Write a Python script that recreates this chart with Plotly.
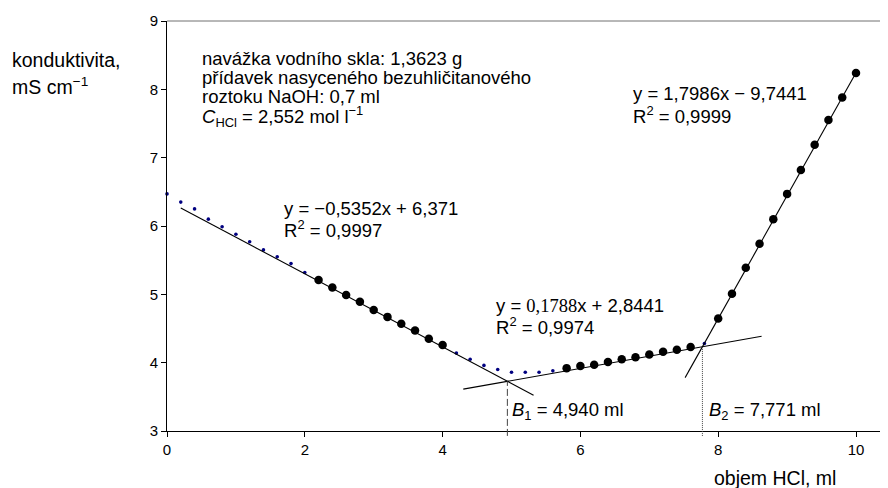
import plotly.graph_objects as go

# ---------------- data ----------------
volume_ml = [0.0, 0.2, 0.4, 0.6, 0.8, 1.0, 1.2, 1.4, 1.6, 1.8, 2.0,
             2.2, 2.4, 2.6, 2.8, 3.0, 3.2, 3.4, 3.6, 3.8, 4.0,
             4.2, 4.4, 4.6, 4.8, 5.0, 5.2, 5.4, 5.6,
             5.8, 6.0, 6.2, 6.4, 6.6, 6.8, 7.0, 7.2, 7.4, 7.6,
             7.8,
             8.0, 8.2, 8.4, 8.6, 8.8, 9.0, 9.2, 9.4, 9.6, 9.8, 10.0]
conductivity = [6.47, 6.35, 6.25, 6.10, 5.99, 5.88, 5.77, 5.65, 5.55, 5.45, 5.32,
                5.21, 5.10, 4.99, 4.89, 4.77, 4.67, 4.57, 4.47, 4.35, 4.26,
                4.14, 4.05, 3.96, 3.90, 3.86, 3.86, 3.86, 3.88,
                3.92, 3.95, 3.97, 4.01, 4.05, 4.08, 4.12, 4.16, 4.19, 4.23,
                4.28,
                4.645, 5.01, 5.39, 5.74, 6.10, 6.47, 6.82, 7.19, 7.55, 7.88, 8.24]

# points used for the three linear fits (index ranges into the series)
fit_index_ranges = [(11, 20), (29, 38), (40, 50)]

# linear fits: slope, intercept, drawn x-extent
fit_slopes = [-0.5352, 0.1788, 1.7986]
fit_intercepts = [6.371, 2.8441, -9.7441]
fit_x_start = [0.2, 4.3, 7.52]
fit_x_end = [5.32, 8.63, 10.0]

# equivalence points
B_values = [4.940, 7.771]

x_ticks = [0, 2, 4, 6, 8, 10]
y_ticks = [3, 4, 5, 6, 7, 8, 9]

# ---------------- layout geometry ----------------
OFF = 8                      # default page (body) margin of the html page
W, H = 888 - OFF, 488 - OFF
L, R, T, Bm = 167 - OFF, 0, 21 - OFF, 57
PW, PH = W - L - R, H - T - Bm
X_MAX = PW / 68.9
FONT = "Liberation Sans, Arial, sans-serif"
FS = 18.5


def px_x(px):
    return (px - OFF - L) / PW


def px_y(py):
    return (H - Bm - (py - OFF)) / PH


fig = go.Figure()

# full measured series (small navy dots)
fig.add_trace(go.Scatter(
    x=volume_ml, y=conductivity, mode="markers",
    marker=dict(size=3.6, color="#000080"),
    cliponaxis=False, showlegend=False, hoverinfo="x+y"))

# fit lines
for a, b, x0, x1 in zip(fit_slopes, fit_intercepts, fit_x_start, fit_x_end):
    fig.add_trace(go.Scatter(
        x=[x0, x1], y=[a * x0 + b, a * x1 + b], mode="lines",
        line=dict(color="black", width=1.1), showlegend=False, hoverinfo="skip"))

# points used in the fits (big black dots)
for i0, i1 in fit_index_ranges:
    fig.add_trace(go.Scatter(
        x=volume_ml[i0:i1 + 1], y=conductivity[i0:i1 + 1], mode="markers",
        marker=dict(size=8.5, color="black"),
        cliponaxis=False, showlegend=False))

# vertical lines from the intersections down to the axis
drop_specs = [(B_values[0], 0, "7px,3px"), (B_values[1], 1, "1px,1px")]
shapes = []
for bx, k, dash in drop_specs:
    y_int = fit_slopes[k] * bx + fit_intercepts[k]
    shapes.append(dict(type="line", xref="x", yref="paper",
                       x0=bx, x1=bx, y0=-0.012, y1=(y_int - 3) / 6,
                       line=dict(color="#444444", width=1, dash=dash)))
# top frame line (grey)
shapes.append(dict(type="line", xref="paper", yref="paper",
                   x0=0, x1=1, y0=1, y1=1,
                   line=dict(color="#707070", width=1)))

# ---------------- text ----------------
texts = [
    ("konduktivita,", 12, 67, 19.5),
    ("mS cm<sup>−1</sup>", 12, 93, 19.5),
    ("navážka vodního skla: 1,3623 g", 202, 64.5, FS),
    ("přídavek nasyceného bezuhličitanového", 202, 84, FS),
    ("roztoku NaOH: 0,7 ml", 202, 103, FS),
    ("<i>C</i><sub>HCl</sub> = 2,552 mol l<sup>−1</sup>", 202, 123, FS),
    ("y = −0,5352x + 6,371", 284, 215, FS),
    ("R<sup>2</sup> = 0,9997", 284, 235, FS),
    ("y = <span style=\"font-family:'Liberation Serif', 'Times New Roman', serif\">0,1788</span>x + 2,8441",
     496, 312, FS),
    ("R<sup>2</sup> = 0,9974", 496, 332.5, FS),
    ("y = 1,7986x − 9,7441", 633, 100, FS),
    ("R<sup>2</sup> = 0,9999", 633, 121, FS),
    ("<i>B</i><sub>1</sub> = 4,940 ml", 512, 417, FS),
    ("<i>B</i><sub>2</sub> = 7,771 ml", 709, 417, FS),
    ("objem HCl, ml", 714, 485, 19.5),
]
annotations = []
for txt, px, py, fs in texts:
    annotations.append(dict(
        text=txt, xref="paper", yref="paper",
        x=px_x(px), y=px_y(py - 0.3465 * fs),
        xanchor="left", yanchor="middle", showarrow=False,
        borderpad=0, borderwidth=0,
        font=dict(family=FONT, size=fs, color="black")))

fig.update_layout(
    width=W, height=H,
    margin=dict(l=L, r=R, t=T, b=Bm, pad=0),
    paper_bgcolor="white", plot_bgcolor="white",
    font=dict(family=FONT, size=15, color="black"),
    xaxis=dict(range=[0, X_MAX], tickvals=x_ticks, ticks="outside", ticklen=5,
               tickwidth=1, tickcolor="black", showline=True, linecolor="black",
               linewidth=1.2, showgrid=False, zeroline=False,
               tickfont=dict(size=15, family=FONT)),
    yaxis=dict(range=[3, 9], tickvals=y_ticks, ticks="outside", ticklen=5,
               tickwidth=1, tickcolor="black", showline=True, linecolor="black",
               linewidth=1, showgrid=False, zeroline=False,
               tickfont=dict(size=15, family=FONT)),
    shapes=shapes, annotations=annotations, showlegend=False,
)

fig.write_html("out.html")
